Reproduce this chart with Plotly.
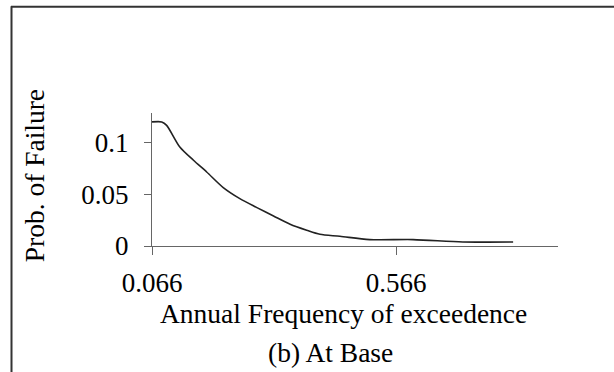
import plotly.graph_objects as go

# Data
freq = [0.066, 0.086, 0.096, 0.123, 0.151, 0.178, 0.212, 0.246, 0.281, 0.315,
        0.349, 0.383, 0.410, 0.451, 0.512, 0.601, 0.703, 0.806]
prob = [0.120, 0.120, 0.1167, 0.0957, 0.0829, 0.0716, 0.0565, 0.0458, 0.0371, 0.029,
        0.021, 0.0152, 0.0113, 0.0094, 0.0062, 0.0062, 0.0039, 0.0039]
x_ticks = [0.066, 0.566]
x_tick_labels = ["0.066", "0.566"]
y_ticks = [0, 0.05, 0.1]
y_tick_labels = ["0", "0.05", "0.1"]

FONT = "Liberation Serif"
TICK_SIZE = 27
TITLE_SIZE = 27.5
W, H = 614, 372
L, R, T, B = 152, 558, 112.7, 245.7

fig = go.Figure()
fig.add_trace(go.Scatter(
    x=freq, y=prob, mode="lines",
    line=dict(color="#222222", width=1.6, shape="spline", smoothing=0.8),
    showlegend=False, hoverinfo="skip",
))

fig.update_layout(
    width=W, height=H,
    margin=dict(l=L, r=W - R, t=T, b=H - B, pad=0),
    paper_bgcolor="white", plot_bgcolor="white",
    font=dict(family=FONT, size=TICK_SIZE, color="black"),
    xaxis=dict(
        range=[0.066, 0.066 + (R - L) / 488.0],
        tickvals=x_ticks, ticktext=x_tick_labels,
        ticks="outside", ticklen=8, tickcolor="#666666", tickwidth=1,
        showline=True, linecolor="#666666", linewidth=1,
        showgrid=False, zeroline=False,
        ticklabelstandoff=5,
        tickfont=dict(family=FONT, size=TICK_SIZE, color="black"),
    ),
    yaxis=dict(
        range=[0, (B - T) / 1034.0],
        tickvals=y_ticks, ticktext=y_tick_labels,
        ticks="outside", ticklen=7, tickcolor="#666666", tickwidth=1,
        showline=True, linecolor="#666666", linewidth=1,
        showgrid=False, zeroline=False,
        ticklabelstandoff=10,
        tickfont=dict(family=FONT, size=TICK_SIZE, color="black"),
    ),
)

pw, ph = R - L, B - T

def px(xp):
    return (xp - L) / pw

def py(yp):
    return (B - yp) / ph

# outer frame (top and left edges visible in the reference)
frame = dict(color="#333333", width=2)
fig.add_shape(type="line", xref="paper", yref="paper",
              x0=px(11), x1=px(614), y0=py(6.5), y1=py(6.5), line=frame)
fig.add_shape(type="line", xref="paper", yref="paper",
              x0=px(11.5), x1=px(11.5), y0=py(6), y1=py(372), line=frame)

fig.add_annotation(text="Annual Frequency of exceedence", xref="paper", yref="paper",
                   x=px(343), y=py(313), showarrow=False,
                   xanchor="center", yanchor="middle",
                   font=dict(family=FONT, size=TITLE_SIZE, color="black"))
fig.add_annotation(text="(b) At Base", xref="paper", yref="paper",
                   x=px(330), y=py(352), showarrow=False,
                   xanchor="center", yanchor="middle",
                   font=dict(family=FONT, size=TITLE_SIZE, color="black"))
fig.add_annotation(text="Prob. of Failure", xref="paper", yref="paper",
                   x=px(34), y=py(176), showarrow=False, textangle=-90,
                   xanchor="center", yanchor="middle",
                   font=dict(family=FONT, size=TITLE_SIZE, color="black"))

fig.write_html("out.html",
               config={"displayModeBar": False},
               post_script="document.body.style.margin='0px';document.body.style.overflow='hidden';")
